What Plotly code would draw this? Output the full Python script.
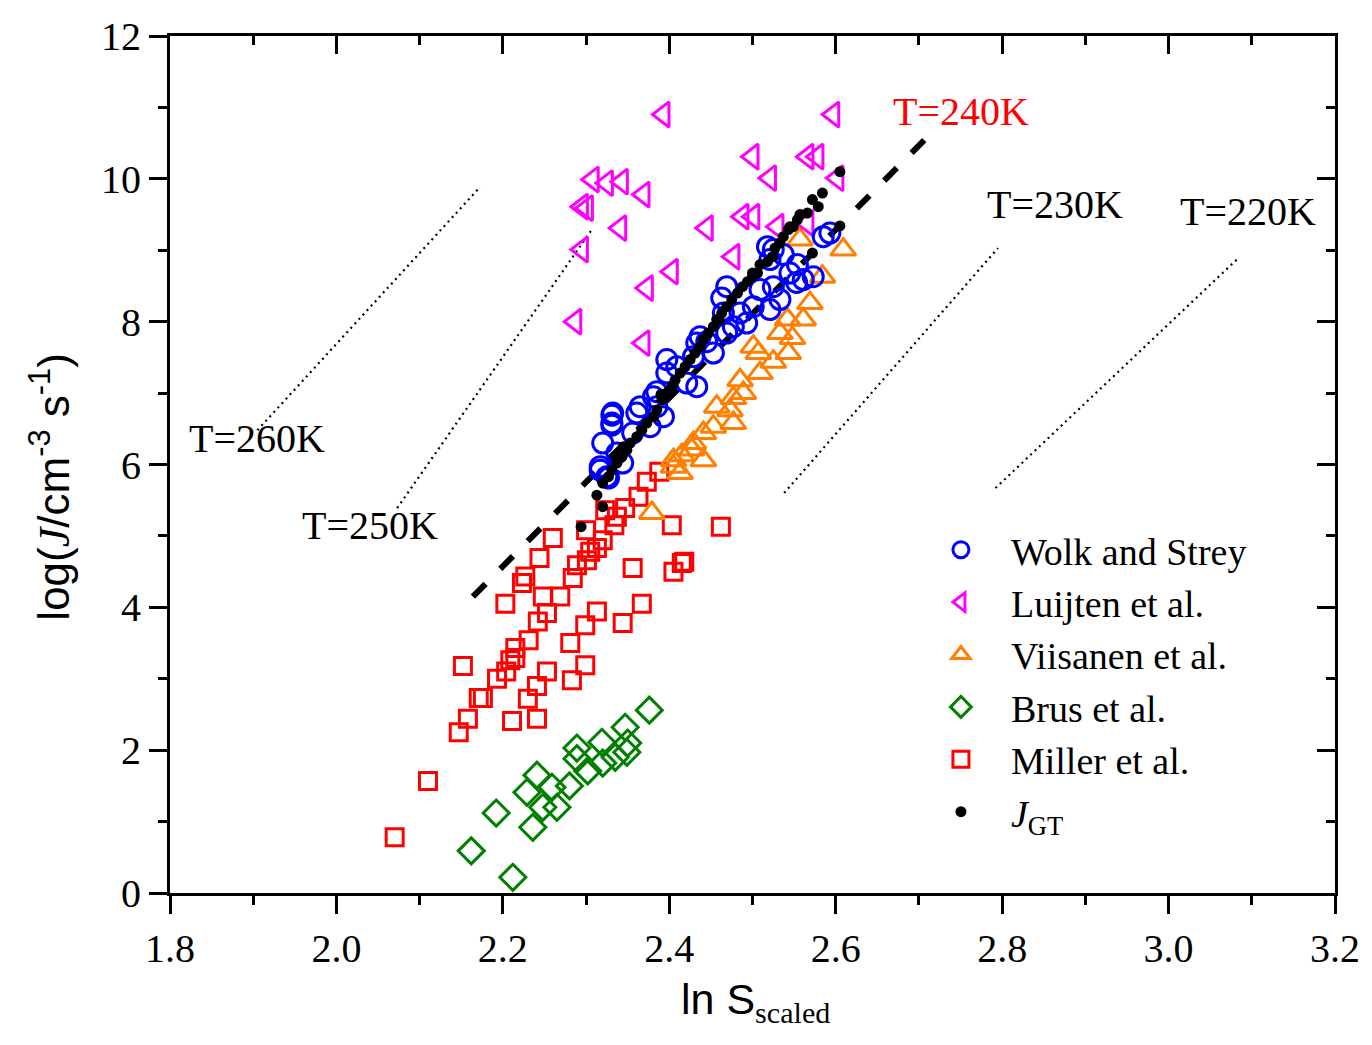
import plotly.graph_objects as go

# ---------------- data ----------------
wolk_x = [2.593,2.585,2.573,2.561,2.545,2.554,2.525,2.533,2.518,2.525,2.537,2.501,2.521,2.485,2.463,2.465,2.477,2.469,2.453,2.437,2.433,2.429,2.421,2.433,2.409,2.397,2.397,2.385,2.393,2.365,2.377,2.356,2.332,2.331,2.320,2.317,2.325,2.337,2.344,2.469,2.521,2.331,2.331,2.327,2.317,2.361,2.385,2.381,2.445,2.493,2.509,2.553]
wolk_y = [9.24,9.19,8.63,8.59,8.68,8.80,8.49,8.31,9.05,9.01,8.94,8.21,8.17,8.12,8.33,8.12,7.93,7.84,7.56,7.79,7.70,7.51,7.14,7.09,7.37,7.47,7.28,6.81,6.67,6.81,6.53,6.44,6.72,6.58,6.30,5.97,5.83,6.16,6.02,8.49,8.87,6.69,6.55,5.81,5.92,6.72,7.02,6.95,7.72,7.98,8.45,8.55]

luijten_x = [2.393,2.597,2.500,2.566,2.578,2.521,2.602,2.308,2.325,2.343,2.369,2.295,2.301,2.341,2.445,2.488,2.501,2.530,2.566,2.295,2.477,2.403,2.373,2.287,2.369]
luijten_y = [10.90,10.90,10.31,10.31,10.31,10.01,10.01,9.99,9.94,9.96,9.78,9.61,9.59,9.31,9.31,9.47,9.47,9.33,9.38,9.01,8.91,8.70,8.47,8.00,7.70]

viisanen_x = [2.609,2.584,2.569,2.561,2.542,2.548,2.533,2.543,2.525,2.507,2.509,2.501,2.485,2.489,2.477,2.473,2.457,2.477,2.453,2.441,2.429,2.441,2.405,2.413,2.379,2.557,2.405,2.427,2.415]
viisanen_y = [9.01,8.63,8.26,8.03,8.03,7.77,7.84,7.56,7.44,7.56,7.28,7.65,7.18,7.00,6.93,6.76,6.81,6.58,6.53,6.44,6.30,6.06,6.06,5.88,5.32,9.15,5.97,6.21,6.13]

brus_x = [2.162,2.212,2.192,2.236,2.229,2.241,2.248,2.259,2.265,2.280,2.289,2.289,2.302,2.319,2.320,2.335,2.349,2.347,2.350,2.376]
brus_y = [0.59,0.22,1.12,0.92,1.41,1.65,1.20,1.48,1.20,1.50,2.03,1.88,1.71,2.11,1.82,1.90,1.97,2.32,2.10,2.56]

miller_x = [2.070,2.110,2.147,2.152,2.158,2.171,2.176,2.193,2.204,2.209,2.215,2.215,2.203,2.211,2.230,2.231,2.241,2.241,2.253,2.242,2.253,2.248,2.269,2.227,2.223,2.244,2.260,2.281,2.283,2.299,2.299,2.313,2.344,2.367,2.284,2.289,2.305,2.313,2.301,2.320,2.337,2.347,2.363,2.373,2.388,2.356,2.403,2.415,2.405,2.462,2.300,2.323,2.334,2.418]
miller_y = [0.78,1.57,2.25,3.18,2.44,2.73,2.73,3.00,3.10,3.26,3.29,3.43,4.05,2.41,2.72,3.54,2.44,2.90,3.10,3.80,3.92,4.15,4.15,4.43,4.34,4.69,4.97,3.50,2.98,3.19,3.75,3.94,3.78,4.05,4.41,4.59,4.78,4.83,4.66,4.94,5.27,5.39,5.55,5.76,5.90,4.55,5.15,4.62,4.50,5.13,5.08,5.36,5.15,4.64]

jgt_x = [2.605,2.584,2.579,2.572,2.566,2.557,2.554,2.549,2.543,2.537,2.533,2.527,2.524,2.518,2.509,2.506,2.500,2.494,2.488,2.482,2.475,2.469,2.463,2.457,2.453,2.447,2.441,2.437,2.431,2.425,2.419,2.413,2.407,2.403,2.397,2.391,2.385,2.381,2.373,2.367,2.361,2.353,2.349,2.343,2.337,2.331,2.327,2.320,2.313,2.320,2.294,2.605,2.572,2.335,2.345,2.390,2.460,2.500,2.545]
jgt_y = [10.10,9.80,9.61,9.71,9.52,9.50,9.43,9.33,9.29,9.19,9.10,9.03,8.91,8.84,8.80,8.68,8.63,8.56,8.49,8.40,8.31,8.21,8.12,8.03,7.93,7.84,7.75,7.65,7.56,7.47,7.37,7.28,7.18,7.09,7.00,6.90,6.76,6.67,6.58,6.48,6.39,6.30,6.20,6.11,6.02,5.92,5.83,5.74,5.57,5.41,5.13,9.34,8.96,6.12,6.25,6.98,8.02,8.68,9.33]

fit_x = [2.164, 2.707]
fit_y = [4.15, 10.55]

t_lines = {
    "T=260K": ([1.905, 2.173], [6.48, 9.89]),
    "T=250K": ([2.073, 2.307], [5.39, 9.29]),
    "T=230K": ([2.538, 2.795], [5.60, 9.03]),
    "T=220K": ([2.792, 3.082], [5.67, 8.87]),
}
t_labels = ["T=240K", "T=230K", "T=220K", "T=260K", "T=250K"]
t_label_x = [2.750, 2.864, 3.096, 1.905, 2.040]
t_label_y = [10.94, 9.64, 9.54, 6.37, 5.15]
t_label_color = ["#ff0000", "black", "black", "black", "black"]

x_ticks = [1.8, 2.0, 2.2, 2.4, 2.6, 2.8, 3.0, 3.2]
y_ticks = [0, 2, 4, 6, 8, 10, 12]

SERIF = "Times New Roman, Liberation Serif, serif"
SANS = "Arial, Liberation Sans, sans-serif"

fig = go.Figure()

for name, (lx, ly) in t_lines.items():
    fig.add_trace(go.Scatter(x=lx, y=ly, mode="lines", showlegend=False,
                             line=dict(color="black", width=2.2, dash="2px,4px"),
                             hoverinfo="skip"))

fig.add_trace(go.Scatter(x=fit_x, y=fit_y, mode="lines", showlegend=False,
                         line=dict(color="black", width=6, dash="18px,21px")))

fig.add_trace(go.Scatter(x=miller_x, y=miller_y, mode="markers", name="Miller et al.",
                         marker=dict(symbol="square-open", size=17, color="#ff0000",
                                     line=dict(width=3, color="#ff0000")), legendrank=5))
fig.add_trace(go.Scatter(x=brus_x, y=brus_y, mode="markers", name="Brus et al.",
                         marker=dict(symbol="diamond-open", size=20, color="#008000",
                                     line=dict(width=3, color="#008000")), legendrank=4))
fig.add_trace(go.Scatter(x=viisanen_x, y=viisanen_y, mode="markers", name="Viisanen et al.",
                         marker=dict(symbol="triangle-up-open", size=22, color="#ff8000",
                                     line=dict(width=3, color="#ff8000")), legendrank=3))
fig.add_trace(go.Scatter(x=luijten_x, y=luijten_y, mode="markers", name="Luijten et al.",
                         marker=dict(symbol="triangle-left-open", size=22, color="#ff00ff",
                                     line=dict(width=3, color="#ff00ff")), legendrank=2))
fig.add_trace(go.Scatter(x=wolk_x, y=wolk_y, mode="markers", name="Wolk and Strey",
                         marker=dict(symbol="circle-open", size=20, color="#0000ff",
                                     line=dict(width=3, color="#0000ff")), legendrank=1))
fig.add_trace(go.Scatter(x=jgt_x, y=jgt_y, mode="markers", name="<i>J</i><sub>GT</sub>",
                         marker=dict(symbol="circle", size=11, color="black"), legendrank=6))

# dummy trace for mirrored (inside) ticks on top/right
fig.add_trace(go.Scatter(x=[None], y=[None], xaxis="x2", yaxis="y2", showlegend=False))

for i, t in enumerate(t_labels):
    fig.add_annotation(x=t_label_x[i], y=t_label_y[i], text=t, showarrow=False,
                       font=dict(family=SERIF, size=40, color=t_label_color[i]),
                       xanchor="center", yanchor="middle")

# axis titles
fig.add_annotation(xref="paper", yref="paper", x=0.503, y=-0.093, yanchor="top",
                   xanchor="center", showarrow=False,
                   text="ln S<sub><span style='font-family:Times New Roman, Liberation Serif, serif'>scaled</span></sub>",
                   font=dict(family=SANS, size=43, color="black"))
fig.add_annotation(xref="paper", yref="paper", x=-0.103, y=0.473, textangle=-90,
                   xanchor="center", yanchor="middle", showarrow=False,
                   text="log(<span style='font-family:Times New Roman, Liberation Serif, serif'><i>J</i></span>/cm<sup>-3</sup> s<sup>-1</sup>)",
                   font=dict(family=SANS, size=44, color="black"))

axis_common = dict(showline=True, linewidth=3, linecolor="black", showgrid=False,
                   zeroline=False, tickwidth=3, tickcolor="black", ticklen=18,
                   tickfont=dict(family=SERIF, size=40, color="black"))

fig.update_layout(
    width=1372, height=1045,
    margin=dict(l=170, r=37, t=36, b=152),
    plot_bgcolor="white", paper_bgcolor="white",
    xaxis=dict(range=[1.8, 3.2], tickvals=x_ticks, ticktext=[f"{v:.1f}" for v in x_ticks],
               ticks="outside",
               minor=dict(dtick=0.1, ticks="outside", ticklen=9, tickwidth=3, tickcolor="black"),
               **axis_common),
    yaxis=dict(range=[0, 12], tickvals=y_ticks, ticktext=[str(v) for v in y_ticks],
               ticks="outside",
               minor=dict(dtick=1, ticks="outside", ticklen=9, tickwidth=3, tickcolor="black"),
               **axis_common),
    xaxis2=dict(overlaying="x", side="top", anchor="y", range=[1.8, 3.2], tickvals=x_ticks,
                ticks="inside", showticklabels=False, showline=True, linewidth=3,
                linecolor="black", showgrid=False, zeroline=False, tickwidth=3, ticklen=18,
                tickcolor="black",
                minor=dict(dtick=0.1, ticks="inside", ticklen=9, tickwidth=3, tickcolor="black")),
    yaxis2=dict(overlaying="y", side="right", anchor="x", range=[0, 12], tickvals=y_ticks,
                ticks="inside", showticklabels=False, showline=True, linewidth=3,
                linecolor="black", showgrid=False, zeroline=False, tickwidth=3, ticklen=18,
                tickcolor="black",
                minor=dict(dtick=1, ticks="inside", ticklen=9, tickwidth=3, tickcolor="black")),
    legend=dict(x=0.636, y=0.437, xanchor="left", yanchor="top", bgcolor="rgba(0,0,0,0)",
                font=dict(family=SERIF, size=38, color="black"), itemwidth=90,
                tracegroupgap=0),
    showlegend=True,
)

fig.write_html("out.html")
